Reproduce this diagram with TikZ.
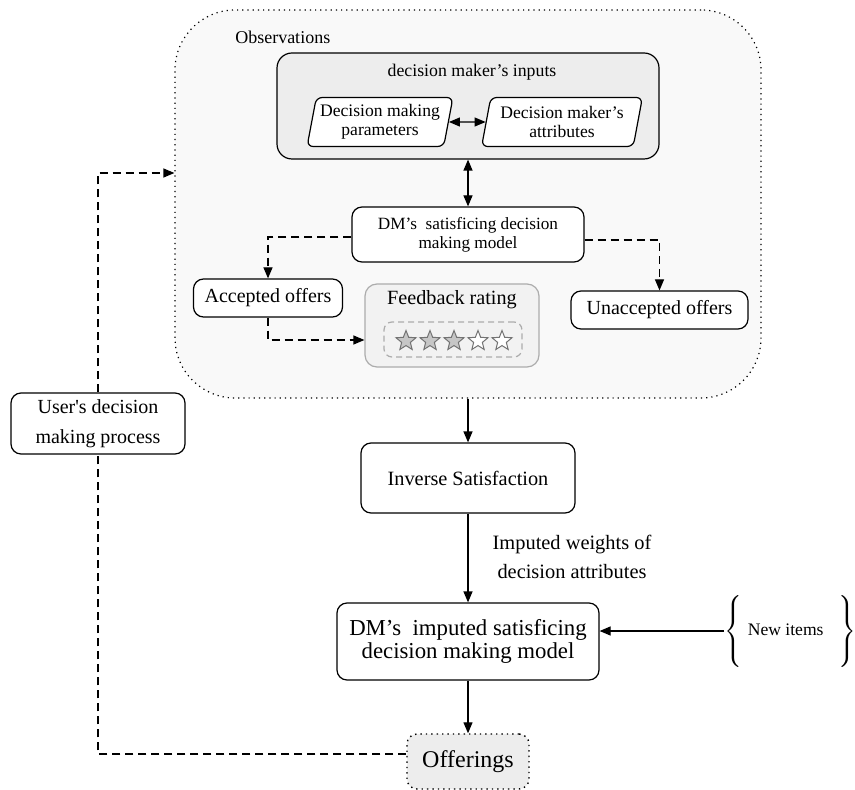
\documentclass[tikz,border=0pt]{standalone}
\usepackage{fontspec}
\setmainfont{Liberation Serif}[Ligatures=TeXOff]
\usepackage{tikz}
\usetikzlibrary{arrows.meta,calc,positioning,shapes.geometric}

\begin{document}
\begin{tikzpicture}[x=0.5pt,y=-0.5pt,line width=0.6pt,>={Triangle[length=5.5pt,width=4.5pt]},
  box/.style={draw,rounded corners=5pt,fill=white,align=center,inner sep=2pt,font=\fontsize{10}{15}\selectfont},
  para/.style={trapezium,trapezium left angle=77,trapezium right angle=103,trapezium stretches=true,
    draw,rounded corners=3pt,fill=white,align=center,inner sep=1pt,minimum height=24.5pt,font=\fontsize{8.8}{9.5}\selectfont},
  dline/.style={dash pattern=on 4pt off 2.5pt},
  starnode/.style={star,star points=5,star point ratio=2.3,draw=black!55,line width=0.5pt,minimum size=10.5pt,inner sep=0pt}]
\useasboundingbox (0,0) rectangle (855,790);

% observations
\node[draw,dotted,fill=gray!5,rounded corners=30pt,minimum width=293pt,minimum height=194pt] (obs) at (468,204) {};
\node[anchor=west,font=\fontsize{9}{11}\selectfont] (obstitle) at (228,37) {Observations};
\node[draw,rounded corners=7.5pt,fill=gray!14,minimum width=191pt,minimum height=53pt] (inputs) at (468,106) {};
\node[font=\fontsize{8.9}{11}\selectfont] (inputstitle) at (472,72) {decision maker’s inputs};
\node[para,minimum width=73pt] (param) at (380,122) {Decision making\\parameters};
\node[para,minimum width=80.5pt] (attr) at (562,122) {Decision maker’s\\attributes};
\draw[<->] (param) -- (attr);

\node[box,minimum width=116pt,minimum height=27.5pt,font=\fontsize{8.6}{9.5}\selectfont] (dm) at (468,234.5) {DM’s~ satisficing decision\\making model};
\draw[<->] (inputs) -- (dm);

\node[box,minimum width=74.5pt,minimum height=19pt] (acc) at (268,298) {Accepted offers};
\node[box,minimum width=88.5pt,minimum height=19pt] (unacc) at (659.5,310) {Unaccepted offers};
\node[draw=gray!65,fill=gray!10,rounded corners=6pt,minimum width=87pt,minimum height=41.5pt] (fb) at (452,325.5) {};
\node[font=\fontsize{10.1}{12}\selectfont] (fbtitle) at (452,300) {Feedback rating};
\node[draw=gray!65,dash pattern=on 3pt off 2pt,rounded corners=4pt,minimum width=69pt,minimum height=17.5pt] (rating) at (453,339.5) {};
\foreach \i/\c in {0/gray!45,1/gray!45,2/gray!45,3/white,4/white}
  \node[starnode,fill=\c] (star\i) at (406+24*\i,341) {};

\draw[dline,->] ([yshift=-1.25pt]dm.west) -| (acc.north);
\draw[dline,->] ([yshift=-2.75pt]dm.east) -| (unacc.north);
\draw[dline,->] (acc.south) |- ([yshift=-7.25pt]fb.west);

% inverse part
\node[box,minimum width=107pt,minimum height=35pt,font=\fontsize{10.15}{12}\selectfont] (inv) at (468,478) {Inverse Satisfaction};
\node[align=center,font=\fontsize{10.2}{14.5}\selectfont] (wlabel) at (572,557) {Imputed weights of\\decision attributes};
\node[box,minimum width=131pt,minimum height=38.5pt,font=\fontsize{11.4}{11.5}\selectfont] (imp) at (468,641.5) {DM’s~ imputed satisficing\\decision making model};
\node[anchor=west,inner sep=0pt,font=\fontsize{8.8}{11}\selectfont] (new) at (724,631)
  {$\left\{\vrule height 15pt depth 15pt width 0pt\right.$\hspace{1.5pt}New items\hspace{6.5pt}$\left.\vrule height 15pt depth 15pt width 0pt\right\}$};
\node[draw,dotted,line width=0.7pt,rounded corners=5pt,fill=gray!14,minimum width=61pt,minimum height=27.5pt,font=\fontsize{12}{14}\selectfont] (offer) at (468,761.5) {Offerings};
\node[box,minimum width=87pt,minimum height=30.5pt] (user) at (98,423.5) {User's decision\\making process};

\draw[->] (obs) -- (inv);
\draw[->] (inv) -- (imp);
\draw[->] (imp) -- (offer);
\draw[->] (new.west) -- (new.west -| imp.east);
\draw[dline] ([yshift=3.75pt]offer.west) -| (user.south);
\draw[dline,->] (user.north) |- ([yshift=15.5pt]obs.west);
\end{tikzpicture}
\end{document}
